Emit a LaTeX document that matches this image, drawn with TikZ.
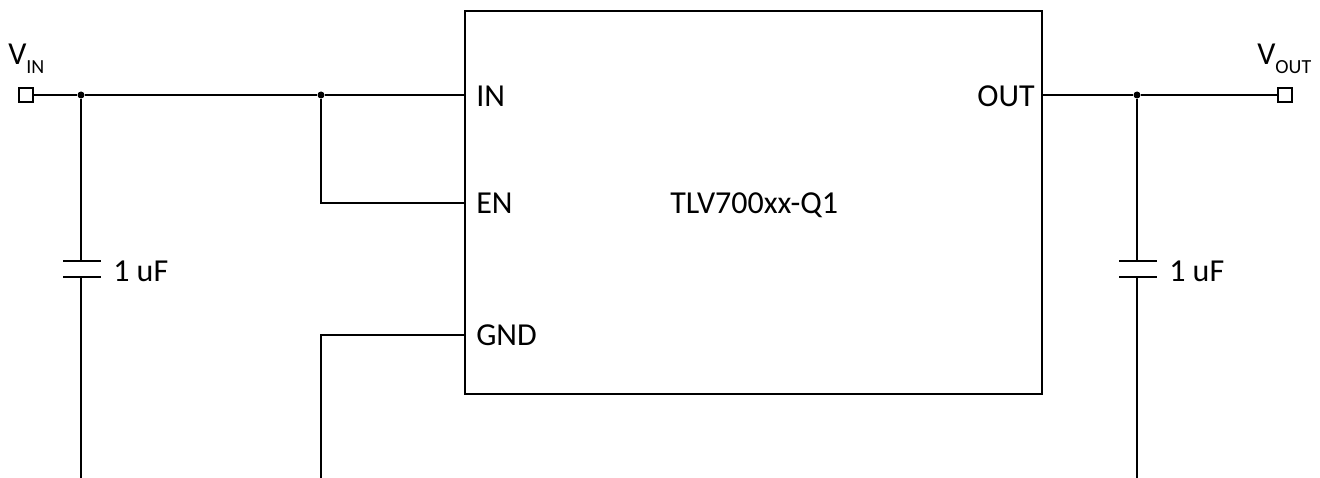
\documentclass[tikz,border=0pt]{standalone}
\usepackage{fontspec}
\setmainfont{Carlito}
\begin{document}
\begin{tikzpicture}[x=0.75pt,y=-0.75pt,
  wire/.style={draw=black,line width=1.35pt},
  chip/.style={draw=black,line width=1.35pt,fill=white,minimum width=577*0.75pt,minimum height=383*0.75pt,inner sep=0pt},
  term/.style={draw=black,line width=1.35pt,fill=white,minimum size=14*0.75pt,inner sep=0pt},
  junction/.style={circle,fill=black,minimum size=7*0.75pt,inner sep=0pt},
  plate/.style={draw=black,line width=1.35pt},
  lbl/.style={inner sep=0pt,text=black,font=\fontsize{24}{26}\selectfont}]
\useasboundingbox (0,0) rectangle (1320,478);
\node[chip] (ic) at (753.5,202.5) {};
\node[term] (vin) at (26,95) {};
\node[term] (vout) at (1285,95) {};
\node[junction] (j1) at (81,95) {};
\node[junction] (j2) at (321,95) {};
\node[junction] (j3) at (1137,95) {};
\coordinate (pinin) at (465,95);
\coordinate (pinen) at (465,203);
\coordinate (pingnd) at (465,335);
\coordinate (pinout) at (1042,95);
\coordinate (c1t) at (81,261);
\coordinate (c1b) at (81,277);
\coordinate (c2t) at (1137,261);
\coordinate (c2b) at (1137,277);
\coordinate (b1) at (81,478);
\coordinate (b2) at (321,478);
\coordinate (b3) at (1137,478);
\coordinate (encorner) at (321,203);
\coordinate (gndcorner) at (321,335);
\draw[wire] (vin) -- (j1) -- (j2) -- (pinin);
\draw[wire] (j2) -- (encorner) -- (pinen);
\draw[wire] (pingnd) -- (gndcorner) -- (b2);
\draw[wire] (pinout) -- (j3) -- (vout);
\draw[wire] (j1) -- (c1t);
\draw[wire] (c1b) -- (b1);
\draw[wire] (j3) -- (c2t);
\draw[wire] (c2b) -- (b3);
\draw[plate] (63,261) -- (101,261);
\draw[plate] (63,277) -- (101,277);
\draw[plate] (1119,261) -- (1157,261);
\draw[plate] (1119,277) -- (1157,277);
\node[lbl,anchor=base west] (tin) at (476,106) {IN};
\node[lbl,anchor=base west] (ten) at (476,213.5) {EN};
\node[lbl,anchor=base west] (tgnd) at (476,345.5) {GND};
\node[lbl,anchor=base east] (tout) at (1035,106) {OUT};
\node[lbl,anchor=base west] (tname) at (670,213.5) {TLV700xx-Q1};
\node[lbl,anchor=base west] (c1l) at (113,281) {1 uF};
\node[lbl,anchor=base west] (c2l) at (1169,281) {1 uF};
\node[lbl,anchor=base west] (tvin) at (8,64.5) {V\raisebox{-6.75pt}{\fontsize{15}{15}\selectfont IN}};
\node[lbl,anchor=base west] (tvout) at (1257,64.5) {V\raisebox{-6.75pt}{\fontsize{15}{15}\selectfont OUT}};
\end{tikzpicture}
\end{document}
